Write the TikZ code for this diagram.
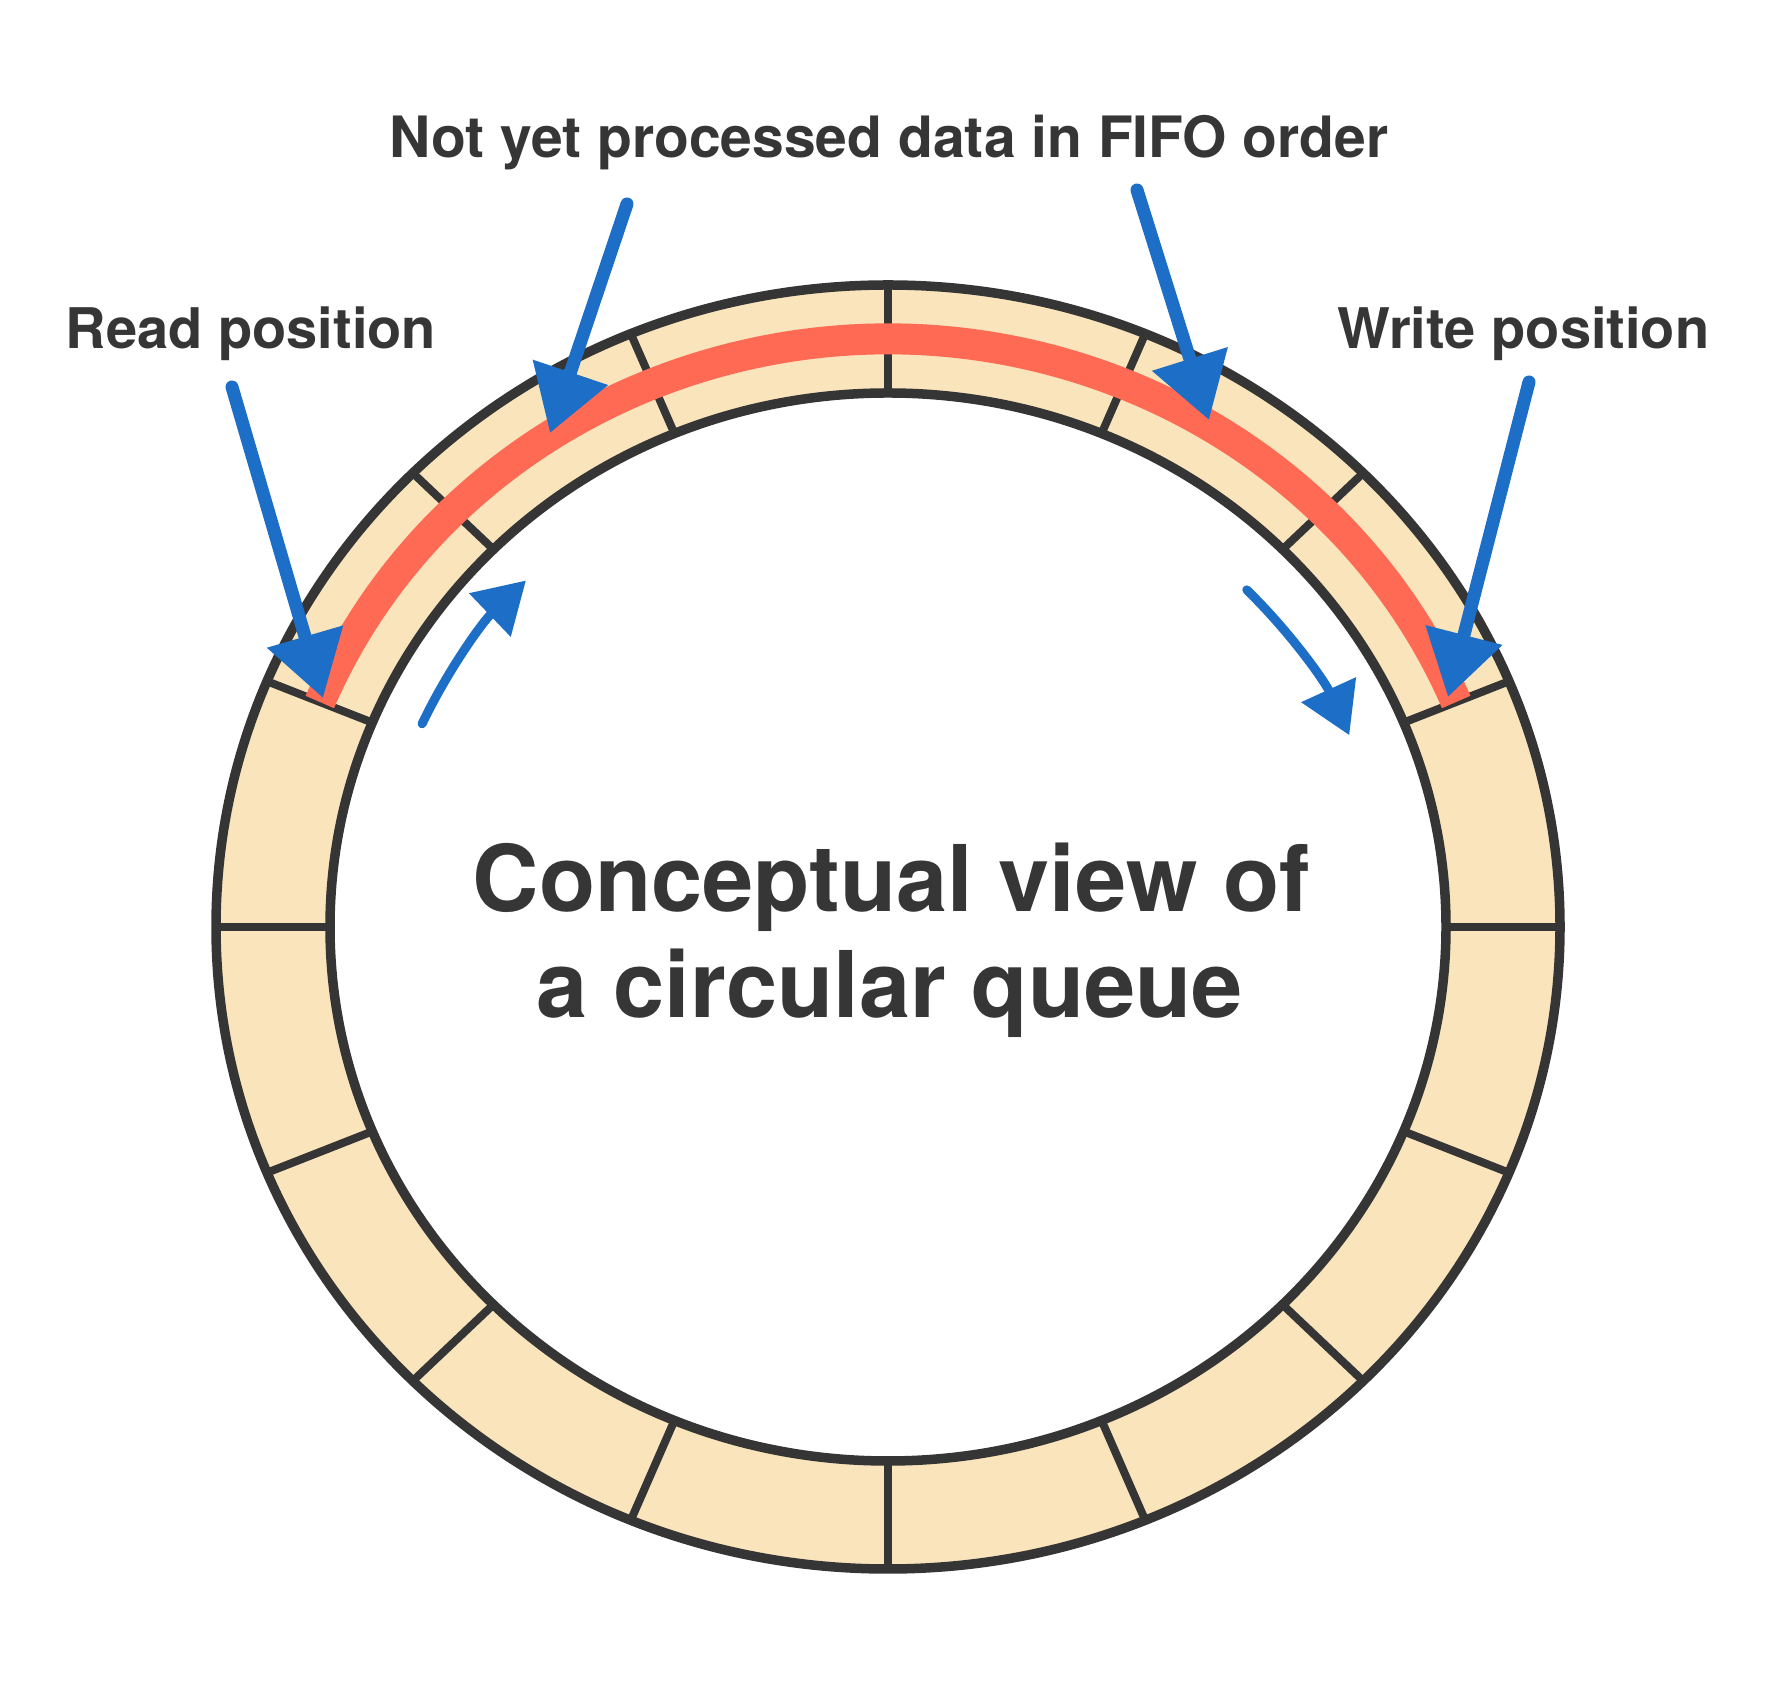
\documentclass[tikz,border=0pt]{standalone}
\usepackage{fontspec}
\setmainfont{TeX Gyre Heros}
\usetikzlibrary{arrows.meta}
\definecolor{ringfill}{HTML}{F9E4BB}
\definecolor{ringline}{HTML}{353535}
\definecolor{fifo}{HTML}{FF6A55}
\definecolor{blu}{HTML}{1C6EC6}
\definecolor{txt}{HTML}{363636}
\tikzset{
  ringedge/.style={draw=ringline, line width=9.5pt},
  divider/.style={draw=ringline, line width=8pt},
  bigarrow/.style={draw=blu, line width=13pt, line cap=round, -{Triangle[length=64pt,width=76pt]}},
  smallarrow/.style={draw=blu, line width=9pt, line cap=round, -{Triangle[length=50pt,width=58pt]}},
  lbl/.style={text=txt, inner sep=0pt, anchor=base},
}
\begin{document}
\begin{tikzpicture}[x=1pt,y=1pt]
\useasboundingbox (0,0) rectangle (1766,1686);
\coordinate (c) at (888,759);
% ring
\fill[ringfill, even odd rule] (c) ellipse [x radius=672pt, y radius=642pt]
                                (c) ellipse [x radius=558pt, y radius=534pt];
\draw[ringedge] (c) ellipse [x radius=672pt, y radius=642pt];
\draw[ringedge] (c) ellipse [x radius=558pt, y radius=534pt];
\foreach \a in {0,22.5,...,337.5}
  \draw[divider] ([shift={(\a:558pt and 534pt)}]c) -- ([shift={(\a:672pt and 642pt)}]c);
% unprocessed data
\draw[fifo, line width=31pt] ([shift={(157.5:615pt and 588pt)}]c)
  arc[start angle=157.5, end angle=22.5, x radius=615pt, y radius=588pt];
% pointer arrows
\coordinate (r0) at (232,1299); \coordinate (r1) at (323,988);
\coordinate (w0) at (1529,1304); \coordinate (w1) at (1448,989);
\coordinate (f0) at (627,1482); \coordinate (f1) at (550,1253);
\coordinate (g0) at (1137,1496); \coordinate (g1) at (1209,1266);
\draw[bigarrow] (r0) -- (r1);
\draw[bigarrow] (w0) -- (w1);
\draw[bigarrow] (f0) -- (f1);
\draw[bigarrow] (g0) -- (g1);
% direction arrows
\draw[smallarrow] ([shift={(155.5:512pt and 490pt)}]c)
  arc[start angle=155.5, end angle=135, x radius=512pt, y radius=490pt];
\draw[smallarrow] ([shift={(44.5:503pt and 481pt)}]c)
  arc[start angle=44.5, end angle=23.5, x radius=503pt, y radius=481pt];
% labels
\node[lbl, font=\fontsize{57}{68}\selectfont\bfseries] (title) at (889,1528) {Not yet processed data in FIFO order};
\node[lbl, font=\fontsize{56}{67}\selectfont\bfseries] (read) at (251,1337) {Read position};
\node[lbl, font=\fontsize{56}{67}\selectfont\bfseries] (write) at (1523.5,1337) {Write position};
\node[lbl, font=\fontsize{92}{106}\selectfont\bfseries] (c1) at (891.5,774) {Conceptual view of};
\node[lbl, font=\fontsize{92}{106}\selectfont\bfseries] (c2) at (890,668) {a circular queue};
\end{tikzpicture}
\end{document}
